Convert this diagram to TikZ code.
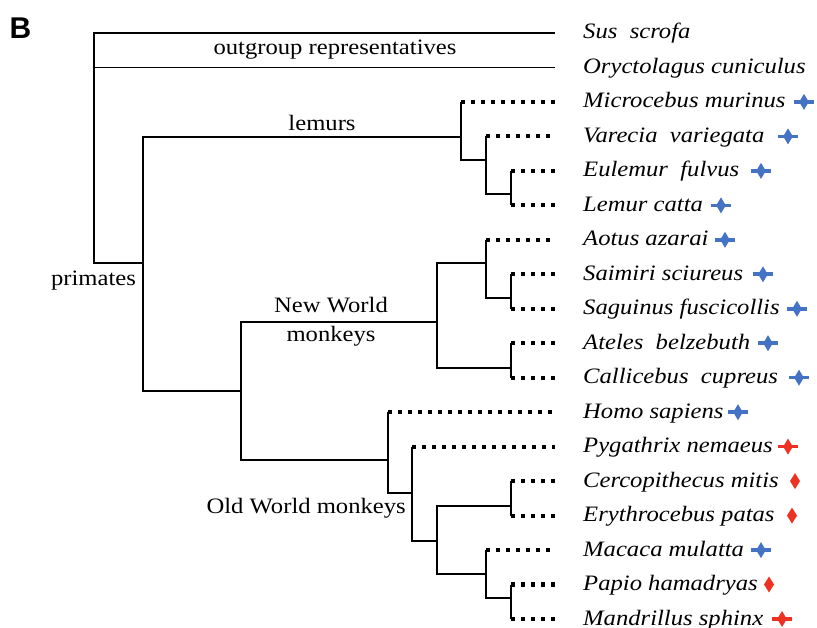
\documentclass[tikz,border=0pt]{standalone}
\usepackage{fontspec}
\setmainfont[FakeStretch=1.12]{Liberation Serif}
\newfontfamily\panelfont{Liberation Sans}

\definecolor{mblue}{RGB}{68,114,196}
\definecolor{mred}{RGB}{237,50,36}

\tikzset{
  branch/.style   = {line width = 1.9pt},                        % solid tree line
  leafline/.style = {line width = 4.2pt,                         % square dots
                     dash pattern = on 4.2pt off 5.8pt},
  taxon/.style    = {anchor = base west, inner sep = 0pt,
                     font = \fontsize{22}{27}\selectfont\itshape},
  clade/.style    = {inner sep = 0pt, align = center,
                     font = \fontsize{22}{29}\selectfont},
  starmark/.pic   = {\fill (-10,-1.8) rectangle (10,1.8);
                     \fill (0,-8) -- (4.8,0) -- (0,8) -- (-4.8,0) -- cycle;},
  diamark/.pic    = {\fill (0,-8) -- (5,0) -- (0,8) -- (-5,0) -- cycle;},
}

\begin{document}
\begin{tikzpicture}[x=1pt, y=-1pt]
\useasboundingbox (0,0) rectangle (817,628);

% leaf tips and species names
\foreach \n/\y/\t in {
   1/33.0/{Sus\ \ scrofa},         2/67.5/{Oryctolagus cuniculus},
   3/101.9/{Microcebus murinus},   4/136.4/{Varecia\ \ variegata},
   5/170.9/{Eulemur\ \ fulvus},    6/205.4/{Lemur catta},
   7/239.8/{Aotus azarai},         8/274.3/{Saimiri sciureus},
   9/308.8/{Saguinus fuscicollis},10/343.2/{Ateles\ \ belzebuth},
  11/377.7/{Callicebus\ \ cupreus},12/412.2/{Homo sapiens},
  13/446.6/{Pygathrix nemaeus},   14/481.1/{Cercopithecus mitis},
  15/515.6/{Erythrocebus patas},  16/550.1/{Macaca mulatta},
  17/584.5/{Papio hamadryas},     18/619.0/{Mandrillus sphinx}}
{
  \coordinate (t\n) at (555,\y);
  \node[taxon] (l\n) at (583,\y+6) {\t};
}

% inner nodes
\coordinate (root) at (94,148);
\coordinate (prim) at (143,263);
\coordinate (lem)  at (461,137);
\coordinate (lemA) at (486,160);
\coordinate (lemB) at (511,194);
\coordinate (anth) at (241,391);
\coordinate (nwm)  at (437,322);
\coordinate (nwA)  at (486,263);
\coordinate (nwB)  at (511,298);
\coordinate (nwC)  at (511,368);
\coordinate (owm)  at (388,460);
\coordinate (owA)  at (412,493);
\coordinate (owB)  at (437,541);
\coordinate (owC)  at (511,506);
\coordinate (owD)  at (486,574);
\coordinate (owE)  at (511,598);

% tree
\draw[branch] (root) |- (t1);
\draw[branch] (root) |- (t2);
\foreach \a/\b in {root/prim, prim/lem, prim/anth, lem/lemA, lemA/lemB,
                   anth/nwm, anth/owm, nwm/nwA, nwm/nwC, nwA/nwB,
                   owm/owA, owA/owB, owB/owC, owB/owD, owD/owE}
  \draw[branch] (\a) |- (\b);
\foreach \a/\n in {lem/3, lemA/4, lemB/5, lemB/6, nwA/7, nwB/8, nwB/9,
                   nwC/10, nwC/11, owm/12, owA/13, owC/14, owC/15,
                   owD/16, owE/17, owE/18}
{
  \draw[branch]   (\a) -- (\a |- t\n);
  \draw[leafline] (\a |- t\n) -- (t\n);
}

% clade names
\node[clade, anchor=base]      (outg)  at (335,55)  {outgroup representatives};
\node[clade, anchor=base]      (lemtx) at (322,131) {lemurs};
\node[clade]                   (nwtx)  at (331,322) {New World\\monkeys};
\node[clade, anchor=base east] (owtx)  at (406,513) {Old World monkeys};
\node[clade, anchor=base]      (prtx)  at (93.5,286) {primates};
\node[anchor=base west, inner sep=0pt,
      font=\fontsize{30}{30}\panelfont\bfseries] (panel) at (9.5,39) {B};

% markers
\foreach \x/\y/\c/\m in {
  804/101.9/mblue/starmark, 788/136.4/mblue/starmark, 761/170.9/mblue/starmark,
  721/205.4/mblue/starmark, 725/239.8/mblue/starmark, 763/274.3/mblue/starmark,
  797/308.8/mblue/starmark, 768/343.2/mblue/starmark, 799/377.7/mblue/starmark,
  738/412.2/mblue/starmark, 788/446.6/mred/starmark,  795/481.1/mred/diamark,
  792/515.6/mred/diamark,   761/550.1/mblue/starmark, 769/584.5/mred/diamark,
  782/619.0/mred/starmark}
  \pic[\c] at (\x,\y) {\m};
\end{tikzpicture}
\end{document}
